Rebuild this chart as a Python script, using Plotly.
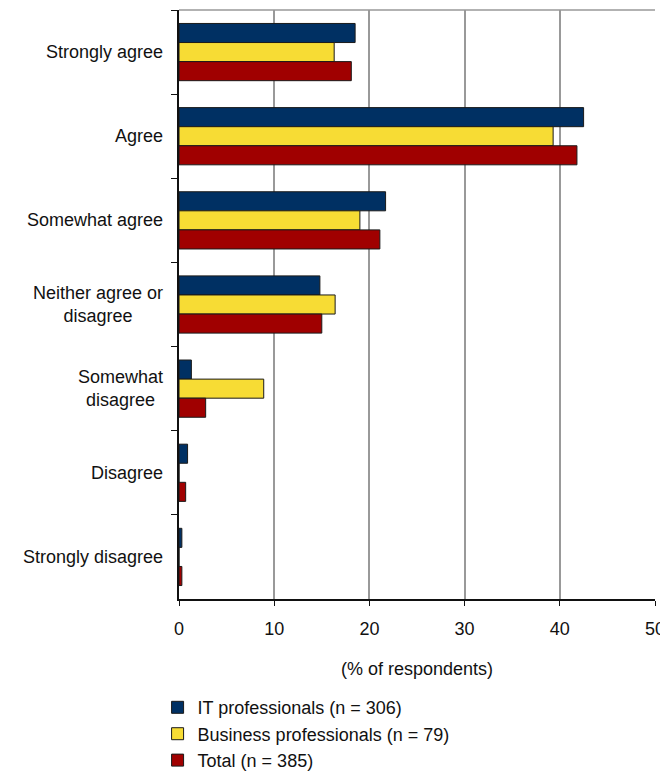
import plotly.graph_objects as go

categories = ["Strongly agree", "Agree", "Somewhat agree", "Neither agree or<br>disagree",
              "Somewhat<br>disagree", "Disagree", "Strongly disagree"]
it_pros = [18.5, 42.5, 21.7, 14.8, 1.3, 0.9, 0.3]
business_pros = [16.3, 39.3, 19.0, 16.4, 8.9, 0.0, 0.0]
total = [18.1, 41.8, 21.1, 15.0, 2.8, 0.7, 0.3]
series_names = ["IT professionals (n = 306)", "Business professionals (n = 79)", "Total (n = 385)"]
colors = ["#003063", "#f7dc34", "#a00000"]
x_ticks = [0, 10, 20, 30, 40, 50]

FONT = "Liberation Sans, Arial, sans-serif"
FS = 18

fig = go.Figure()
for name, vals, col in zip(series_names, [it_pros, business_pros, total], colors):
    fig.add_trace(go.Bar(
        y=categories, x=vals, name=name, orientation="h",
        marker=dict(color=col, line=dict(color="#1a1a1a", width=1)),
    ))

for c in categories:
    fig.add_annotation(
        x=0, xref="paper", y=c, yref="y", text=c, showarrow=False,
        xanchor="right", yanchor="middle", align="center", xshift=-14,
        font=dict(family=FONT, size=FS, color="#111111"),
    )

fig.add_shape(type="line", xref="paper", yref="paper", x0=0, x1=1, y0=1, y1=1,
              line=dict(color="#999999", width=1.5))

# page body adds an 8px margin, so the figure is sized 660x765
fig.update_layout(
    width=660, height=765,
    margin=dict(l=171, r=13, t=2, b=174, autoexpand=False),
    paper_bgcolor="white", plot_bgcolor="white",
    barmode="group", bargap=0.32, bargroupgap=0,
    font=dict(family=FONT, size=FS, color="#111111"),
    showlegend=True,
    legend=dict(x=-0.045, xanchor="left", y=-0.153, yanchor="top",
                orientation="v", traceorder="normal",
                font=dict(family=FONT, size=FS), tracegroupgap=0,
                bgcolor="rgba(0,0,0,0)"),
    xaxis=dict(range=[0, 50], tickvals=x_ticks, ticks="outside", ticklen=5,
               tickcolor="#111111", showline=True, linecolor="#111111", linewidth=1.5,
               showgrid=True, gridcolor="#999999", gridwidth=1.5, zeroline=False,
               ticklabelstandoff=8, ticklabeloverflow="allow",
               title=dict(text="(% of respondents)", standoff=24,
                          font=dict(family=FONT, size=FS)),
               tickfont=dict(family=FONT, size=FS)),
    yaxis=dict(autorange="reversed", showticklabels=False, ticks="outside",
               tickson="boundaries", ticklen=6, tickcolor="#111111",
               showline=True, linecolor="#111111", linewidth=1.5, showgrid=False),
)

fig.write_html("out.html")
